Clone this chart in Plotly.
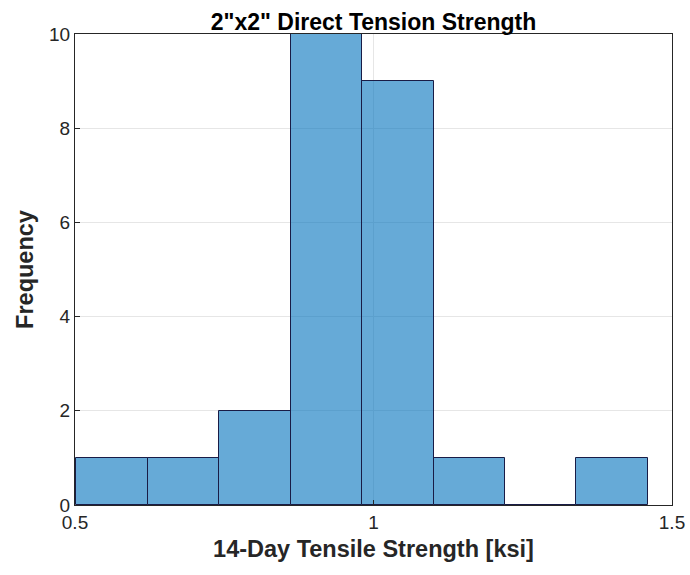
import plotly.graph_objects as go

# histogram bins
bin_edges = [0.502, 0.622, 0.741, 0.861, 0.981, 1.101, 1.220, 1.340, 1.460]
counts = [1, 1, 2, 10, 9, 1, 0, 1]

x_ticks = [0.5, 1, 1.5]
x_tick_labels = ["0.5", "1", "1.5"]
y_ticks = [0, 2, 4, 6, 8, 10]

centers = [(a + b) / 2 for a, b in zip(bin_edges[:-1], bin_edges[1:])]
widths = [b - a for a, b in zip(bin_edges[:-1], bin_edges[1:])]

font = "Liberation Sans, Arial, sans-serif"

fig = go.Figure()
fig.add_trace(go.Bar(
    x=centers, y=counts, width=widths,
    marker=dict(color="rgba(0,114,189,0.6)",
                line=dict(color="rgb(25,28,70)", width=1)),
))

fig.update_layout(
    width=690, height=575,
    margin=dict(l=75, r=18, t=34, b=70),
    paper_bgcolor="white", plot_bgcolor="white",
    showlegend=False, bargap=0,
    font=dict(family=font, size=19, color="#262626"),
    title=dict(text="<b>2\"x2\" Direct Tension Strength</b>",
               x=0.5, xref="paper", xanchor="center",
               y=0.962, yref="container", yanchor="middle",
               font=dict(family=font, size=23, color="#000")),
)
fig.update_xaxes(
    range=[0.5, 1.5], tickvals=x_ticks, ticktext=x_tick_labels,
    showgrid=True, gridcolor="#e6e6e6", gridwidth=1,
    showline=True, linecolor="#262626", linewidth=1, mirror=True,
    ticks="inside", ticklen=5, tickcolor="#262626",
    zeroline=False, automargin=False,
    title=dict(text="<b>14-Day Tensile Strength [ksi]</b>",
               font=dict(family=font, size=23.5, color="#262626"), standoff=8),
)
fig.update_yaxes(
    range=[0, 10], tickvals=y_ticks,
    showgrid=True, gridcolor="#e6e6e6", gridwidth=1,
    showline=True, linecolor="#262626", linewidth=1, mirror=True,
    ticks="inside", ticklen=5, tickcolor="#262626",
    zeroline=False, automargin=False,
    title=dict(text="<b>Frequency</b>",
               font=dict(family=font, size=23.5, color="#262626"), standoff=8),
)

# drop the default page margin so the figure fills the window
fig.write_html("out.html",
               config={"displayModeBar": False},
               post_script="document.body.style.margin='0';"
                           "document.body.style.overflow='hidden';")
